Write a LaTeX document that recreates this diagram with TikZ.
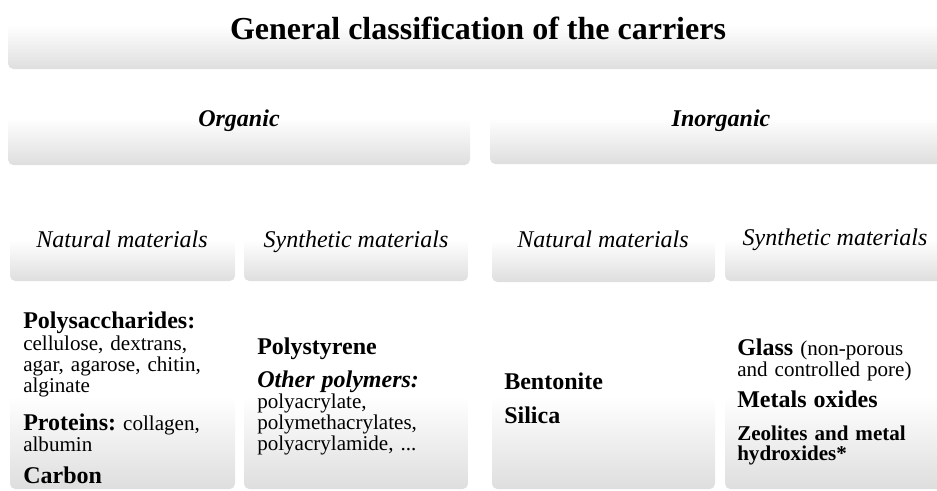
\documentclass[tikz,border=0pt]{standalone}
\usepackage{fontspec}
\setmainfont{Liberation Serif}
\usetikzlibrary{fit}
\definecolor{boxgray}{RGB}{222,222,222}
\newcommand{\headtxt}[1]{{\fontsize{18}{18}\selectfont\bfseries #1}}
\frenchspacing

\begin{document}
\begin{tikzpicture}[x=0.75pt,y=-0.75pt,
        box/.style={inner sep=0pt,rounded corners=4pt,top color=white,bottom color=boxgray,middle color=white},
        level/.style={anchor=base,inner sep=0pt,font=\fontsize{18}{22}\selectfont\itshape},
        entry/.style={anchor=base west,inner sep=0pt,text width=165pt,align=left,font=\fontsize{15.8}{15.8}\selectfont\frenchspacing}]
        \path[use as bounding box] (0,0) rectangle (937,490);
        % boxes
        \node[box,fit={(8,-19) (945,69)}] (titlebox) {};
        \node[box,fit={(8,71) (470,165)}] (orgbox) {};
        \node[box,fit={(490,71) (952,164)}] (inorgbox) {};
        \node[box,fit={(10,199) (235,281)}] (orgnatbox) {};
        \node[box,fit={(244,199) (468,281)}] (orgsynbox) {};
        \node[box,fit={(492,199) (715,282)}] (inorgnatbox) {};
        \node[box,fit={(725,199) (945,281)}] (inorgsynbox) {};
        \node[box,fit={(10,304) (235,489)}] (orgnatlist) {};
        \node[box,fit={(244,304) (468,489)}] (orgsynlist) {};
        \node[box,fit={(492,304) (715,489)}] (inorgnatlist) {};
        \node[box,fit={(725,304) (945,489)}] (inorgsynlist) {};
        % headings
        \node[anchor=base,inner sep=0pt,font=\fontsize{24}{28}\selectfont\bfseries] (title) at (478,39) {General classification of the carriers};
        \node[level,font=\fontsize{18}{22}\selectfont\bfseries\itshape] (org) at (239,126) {Organic};
        \node[level,font=\fontsize{18}{22}\selectfont\bfseries\itshape] (inorg) at (721,126) {Inorganic};
        \node[level] (orgnat) at (122,247) {Natural materials};
        \node[level] (orgsyn) at (356,247) {Synthetic materials};
        \node[level] (inorgnat) at (603,247) {Natural materials};
        \node[level] (inorgsyn) at (835,245) {Synthetic materials};
        % organic, natural
        \node[entry] (polysac) at (23,328) {\headtxt{Polysaccharides:}\\[1pt] cellulose, dextrans,\\ agar, agarose, chitin,\\ alginate};
        \node[entry] (proteins) at (23,430) {\headtxt{Proteins:} collagen,\\ albumin};
        \node[entry] (carbon) at (23,483) {\headtxt{Carbon}};
        % organic, synthetic
        \node[entry] (polystyrene) at (257,354) {\headtxt{Polystyrene}};
        \node[entry] (otherpoly) at (257,387) {\headtxt{\itshape Other polymers:}\\ polyacrylate,\\ polymethacrylates,\\ polyacrylamide, ...};
        % inorganic, natural
        \node[entry] (bentonite) at (504,389) {\headtxt{Bentonite}};
        \node[entry] (silica) at (504,423) {\headtxt{Silica}};
        % inorganic, synthetic
        \node[entry] (glass) at (737,355) {\headtxt{Glass} (non-porous\\ and controlled pore)};
        \node[entry] (metals) at (737,407) {\headtxt{Metals oxides}};
        \node[entry,font=\fontsize{15.8}{15.3}\selectfont\bfseries] (zeolites) at (737,440) {Zeolites and metal\\ hydroxides*};
\end{tikzpicture}
\end{document}
